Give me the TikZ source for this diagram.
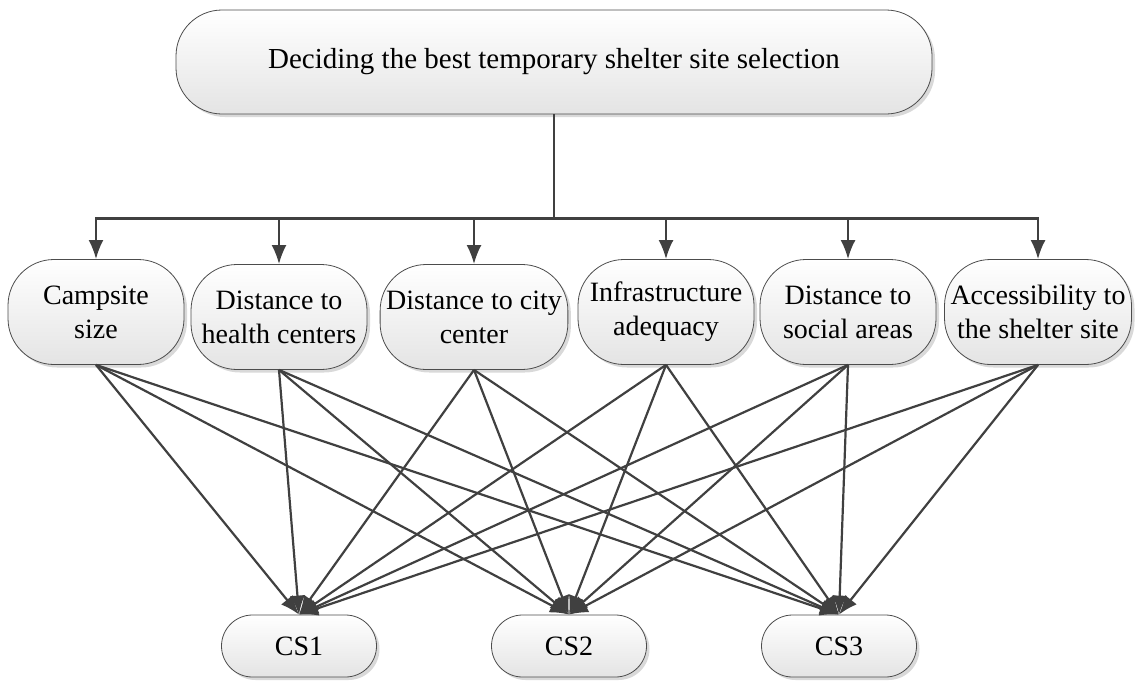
\documentclass[tikz,border=0pt]{standalone}
\usepackage{fontspec}
\setmainfont{Liberation Serif}
\usepackage{xcolor}
\usepackage{tikz}
\usetikzlibrary{arrows.meta,shadows}
\definecolor{linegray}{HTML}{404040}
\definecolor{boxgray}{HTML}{E4E4E4}
\tikzset{
  ahpnode/.style = {rounded corners=46pt, draw=black!70, line width=0.8pt,
    align=center, top color=white, bottom color=boxgray,
    font=\fontsize{28}{34}\selectfont,
    drop shadow={shadow xshift=3pt, shadow yshift=-3pt, fill=black!15,
      opacity=1}},
  ahp_goal/.style = {ahpnode, minimum width=756pt, minimum height=104pt,
    font=\fontsize{29}{34}\selectfont},% but, objectif
  ahp_crit/.style = {ahpnode, minimum width=176pt, minimum height=105pt,
    inner xsep=6pt},% critere
  ahp_alt/.style = {ahpnode, rounded corners=31pt, minimum width=155pt,
    minimum height=62pt, font=\fontsize{28}{32}\selectfont},% alternative
  link/.style = {draw=linegray, line width=2.2pt}
}

\begin{document}
\begin{tikzpicture}[x=1pt, y=-1pt, >={Latex[length=19pt,width=15pt]}]
\useasboundingbox (0,0) rectangle (1139,680);
\node [ahp_goal] (goal) at (554,62)
  {Deciding the best temporary shelter site selection};
% criteres
\node [ahp_crit] (c1) at (96,312) {Campsite\\size};
\node [ahp_crit] (c2) at (279,317) {Distance to\\health centers};
\node [ahp_crit] (c3) at (474,317) {Distance to city\\center};
\node [ahp_crit] (c4) at (666,312) {Infrastructure\\adequacy};
\node [ahp_crit] (c5) at (848,312) {Distance to\\social areas};
\node [ahp_crit] (c6) at (1038,312) {Accessibility to\\the shelter site};
% alternatives
\node [ahp_alt] (cs1) at (299,646) {CS1};
\node [ahp_alt] (cs2) at (569,646) {CS2};
\node [ahp_alt] (cs3) at (839,646) {CS3};
% liens
\foreach \i in {1,...,6}
  \draw [link,->] (goal.south) -- ++(0,104) -| (c\i.north);
\foreach \i in {1,...,6}
  \foreach \a in {cs1,cs2,cs3}
    \draw [link,->] (c\i.south) -- (\a.north);
\end{tikzpicture}
\end{document}
